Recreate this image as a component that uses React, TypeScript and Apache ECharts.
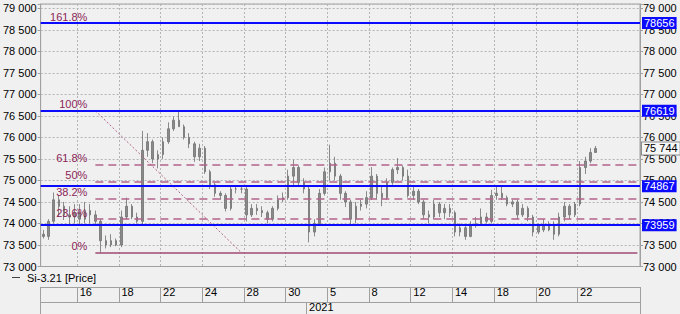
import React, { useEffect, useRef } from 'react';
import * as echarts from 'echarts';

// ---------- data ----------
const tradingDays = [
  '2020-12-14', '2020-12-15', '2020-12-16', '2020-12-17', '2020-12-18',
  '2020-12-21', '2020-12-22', '2020-12-23', '2020-12-24', '2020-12-25',
  '2020-12-28', '2020-12-29', '2020-12-30',
  '2021-01-04', '2021-01-05', '2021-01-06', '2021-01-08',
  '2021-01-11', '2021-01-12', '2021-01-13', '2021-01-14', '2021-01-15',
  '2021-01-18', '2021-01-19', '2021-01-20', '2021-01-21', '2021-01-22',
];
const emptyDays = ['2021-01-25', '2021-01-26'];
const firstDayBars = 3;
const barsPerDay = 4;

const tickDays = [
  '2020-12-16', '2020-12-18', '2020-12-22', '2020-12-24', '2020-12-28', '2020-12-30',
  '2021-01-05', '2021-01-08', '2021-01-12', '2021-01-14', '2021-01-18', '2021-01-20', '2021-01-22',
];
const yearStartDay = '2021-01-04';
const yearLabel = '2021';

const opens = [
  73750, 73700, 74050, 74550, 74400, 74200, 74150, 74250, 74100, 74300,
  74200, 74050, 73600, 73500, 73600, 73500, 74150, 74400, 74150, 74050,
  75700, 75900, 75500, 75600, 75900, 76200, 76400, 76250, 76000, 75850,
  75550, 75750, 75200, 74900, 74700, 74650, 74350, 74800, 74800, 74800,
  74200, 74350, 74300, 74250, 74100, 74350, 74550, 74600, 75100, 75300,
  74950, 74800, 73800, 74000, 74700, 75200, 75400, 75100, 74700, 74500,
  74100, 74400, 74450, 74600, 75100, 74700, 74600, 74950, 75250, 75300,
  75100, 74650, 74750, 74500, 74200, 74150, 74450, 74250, 74350, 74250,
  73800, 73900, 73700, 73950, 74000, 74150, 74050, 74650, 74700, 74600,
  74450, 74500, 74200, 74350, 74150, 73800, 73950, 73850, 73950, 73750,
  74150, 74400, 74200, 74450, 75300, 75450, 75650,
];
const closes = [
  73700, 74050, 74550, 74400, 74200, 74150, 74250, 74100, 74300, 74200,
  74050, 73600, 73500, 73600, 73500, 74150, 74400, 74150, 74050, 75700,
  75900, 75500, 75600, 75900, 76200, 76400, 76250, 76000, 75850, 75550,
  75750, 75200, 74900, 74700, 74650, 74350, 74800, 74800, 74800, 74200,
  74350, 74300, 74250, 74100, 74350, 74550, 74600, 75100, 75300, 74950,
  74800, 73800, 74000, 74700, 75200, 75400, 75100, 74700, 74500, 74100,
  74400, 74450, 74600, 75100, 74700, 74600, 74950, 75250, 75300, 75100,
  74650, 74750, 74500, 74200, 74150, 74450, 74250, 74350, 74250, 73800,
  73900, 73700, 73950, 74000, 74150, 74050, 74650, 74700, 74600, 74450,
  74500, 74200, 74350, 74150, 73800, 73950, 73850, 73950, 73750, 74150,
  74400, 74200, 74450, 75300, 75450, 75650, 75744,
];
const lows = [
  73650, 73620, 74000, 74150, 74080, 73950, 74000, 73950, 74000, 74000,
  73950, 73323, 73420, 73450, 73470, 73450, 74100, 74100, 74000, 73980,
  75550, 75400, 75280, 75500, 75850, 76150, 76250, 75950, 75750, 75430,
  75450, 75150, 74800, 74620, 74550, 74280, 74300, 74700, 74700, 74050,
  74150, 74200, 74150, 74000, 74050, 74300, 74500, 74550, 74850, 74850,
  74700, 73560, 73700, 73950, 74650, 75000, 75000, 74550, 74380, 73970,
  74000, 74300, 74350, 74550, 74550, 74400, 74550, 74900, 75150, 75000,
  74600, 74550, 74450, 74100, 74000, 74100, 74150, 74100, 74150, 73700,
  73700, 73620, 73680, 73900, 73950, 74000, 74000, 74550, 74550, 74400,
  74380, 74100, 74150, 74050, 73700, 73750, 73800, 73820, 73620, 73700,
  74050, 74100, 74150, 74400, 75150, 75400, 75650,
];
const highs = [
  73850, 74100, 74720, 74650, 74500, 74400, 74450, 74450, 74500, 74450,
  74300, 74100, 73720, 73750, 73650, 74300, 74600, 74450, 74250, 76150,
  76100, 75950, 75700, 76000, 76350, 76480, 76619, 76300, 76100, 75900,
  75850, 75800, 75250, 74950, 74750, 74700, 74850, 74870, 74870, 74850,
  74450, 74450, 74400, 74300, 74400, 74650, 74720, 75250, 75480, 75350,
  75050, 74850, 74100, 74800, 75300, 75830, 75550, 75150, 74750, 74550,
  74500, 74550, 74750, 75310, 75150, 74850, 75050, 75300, 75520, 75350,
  75250, 74850, 74800, 74550, 74300, 74550, 74500, 74450, 74450, 74300,
  74000, 73950, 74050, 74150, 74350, 74250, 74780, 74867, 74850, 74650,
  74550, 74550, 74450, 74400, 74200, 74000, 74100, 74050, 74050, 74250,
  74500, 74450, 74500, 75450, 75550, 75750, 75800,
];

const seriesName = 'Si-3.21 [Price]';

const fibLabels = ['161.8%', '100%', '61.8%', '50%', '38.2%', '23.6%', '0%'];
const fibValues = [78656, 76619, 75360, 74971, 74582, 74101, 73323];
const fibSolid = ['100%', '0%'];
const fibStartDay = '2020-12-16';
const fibStartBar = 3;
const fibEndDay = '2020-12-25';
const fibEndBar = 3;

const blueLevels = [78656, 76619, 74867, 73959];

const yMin = 73000;
const yMax = 79100;
const yStep = 500;

// ---------- helpers ----------
const FONT = "'Liberation Sans', Arial, sans-serif";

const categories: string[] = [];
const firstBarOfDay: Record<string, number> = {};
[...tradingDays, ...emptyDays].forEach((d, di) => {
  const n = di === 0 ? firstDayBars : barsPerDay;
  firstBarOfDay[d] = categories.length;
  for (let k = 0; k < n; k++) categories.push(`${d}#${k}`);
});
const tickIdx = new Set(tickDays.map((d) => firstBarOfDay[d]));
const yearIdx = firstBarOfDay[yearStartDay];
const lastIdx = categories.length - 1;
const fibStartIdx = firstBarOfDay[fibStartDay] + fibStartBar;
const fibEndIdx = firstBarOfDay[fibEndDay] + fibEndBar;

const candles = opens.map((o, i) => [o, closes[i], lows[i], highs[i]]);

const fmtThousands = (v: number) => {
  const t = Math.floor(v / 1000);
  const r = String(Math.round(v % 1000)).padStart(3, '0');
  return `${t} ${r}`;
};

export default function App() {
  const ref = useRef<HTMLDivElement>(null);
  useEffect(() => {
    if (!ref.current) return;
    const chart = echarts.init(ref.current, undefined, { renderer: 'svg' });

    const fibColor = '#b3628a';
    const fibSolidColor = '#a04a74';
    const fibTextColor = '#8b2557';
    const blue = '#0a0aff';
    const gridGray = '#b4b4b4';
    const axisGray = '#a0a0a0';

    const fibLines = fibLabels.map((lab, i) => [
      {
        coord: [fibStartIdx, fibValues[i]],
        lineStyle: {
          color: fibSolid.includes(lab) ? fibSolidColor : fibColor,
          width: 1.5,
          type: fibSolid.includes(lab) ? 'solid' : [8, 5],
        },
        label: {
          show: true,
          position: 'start',
          formatter: lab + '\n ',
          lineHeight: 13,
          color: fibTextColor,
          fontSize: 11,
          fontFamily: FONT,
          distance: 8,
        },
      },
      { coord: [lastIdx, fibValues[i]] },
    ]);

    const diagonal = [
      {
        coord: [fibStartIdx, fibValues[1]],
        lineStyle: { color: fibColor, width: 1, type: [2, 2] },
        label: { show: false },
      },
      { coord: [fibEndIdx, fibValues[6]] },
    ];

    const blueLines = blueLevels.map((v) => ({
      yAxis: v,
      lineStyle: { color: blue, width: 2, type: 'solid' },
      label: {
        show: true,
        position: 'end',
        formatter: String(v),
        color: '#fff',
        backgroundColor: blue,
        fontSize: 11,
        fontFamily: FONT,
        padding: [1, 2, 0, 2],
        distance: 2,
      },
    }));

    const lastClose = closes[closes.length - 1];
    const lastLine = {
      yAxis: lastClose,
      lineStyle: { color: 'rgba(0,0,0,0)', width: 0 },
      label: {
        show: true,
        position: 'end',
        formatter: fmtThousands(lastClose),
        color: '#000',
        backgroundColor: '#f7f7f7',
        borderColor: '#8c8c8c',
        borderWidth: 1,
        fontSize: 11,
        fontFamily: FONT,
        padding: [1, 2, 0, 2],
        distance: 2,
      },
    };

    const yAxisBase = {
      type: 'value',
      min: yMin,
      max: yMax,
      interval: yStep,
      axisLine: { show: true, lineStyle: { color: axisGray } },
      axisTick: { show: true, length: 3, lineStyle: { color: axisGray } },
    };

    const bottomLabel = {
      color: '#000',
      fontSize: 11,
      fontFamily: FONT,
      align: 'left',
    };

    chart.setOption({
      animation: false,
      backgroundColor: '#f0f0f0',
      textStyle: { fontFamily: FONT },
      legend: {
        left: 12,
        top: 272,
        padding: 0,
        itemWidth: 8,
        itemHeight: 1,
        itemGap: 5,
        data: [{ name: seriesName, icon: 'rect', itemStyle: { color: '#444', borderWidth: 0 } }],
        textStyle: { fontSize: 11, color: '#000', fontFamily: FONT, padding: [0, 0, 0, 2] },
        selectedMode: false,
      },
      grid: {
        left: 40,
        right: 40,
        top: 4,
        bottom: 47.5,
        show: true,
        borderColor: axisGray,
        borderWidth: 1,
        backgroundColor: '#f0f0f0',
      },
      xAxis: [
        {
          type: 'category',
          data: categories,
          boundaryGap: true,
          position: 'bottom',
          axisLine: { show: true, lineStyle: { color: axisGray } },
          axisTick: { show: false },
          axisLabel: { show: false },
          splitLine: {
            show: true,
            interval: (i: number) => tickIdx.has(i),
            lineStyle: { color: gridGray, type: [2, 2] },
          },
        },
        {
          type: 'category',
          data: categories,
          boundaryGap: true,
          position: 'bottom',
          offset: 20.5,
          axisLine: { show: true, lineStyle: { color: axisGray } },
          axisTick: {
            show: true,
            length: 15,
            interval: (i: number) => i === 0 || tickIdx.has(i),
            lineStyle: { color: axisGray },
          },
          axisLabel: {
            ...bottomLabel,
            show: true,
            interval: (i: number) => tickIdx.has(i),
            formatter: (v: string) => String(parseInt(v.slice(8, 10), 10)),
            margin: -1,
          },
          splitLine: { show: false },
        },
        {
          type: 'category',
          data: categories,
          boundaryGap: true,
          position: 'bottom',
          offset: 35.5,
          axisLine: { show: true, lineStyle: { color: axisGray } },
          axisTick: {
            show: true,
            length: 12,
            interval: (i: number) => i === 0 || i === yearIdx,
            lineStyle: { color: axisGray },
          },
          axisLabel: {
            ...bottomLabel,
            show: true,
            interval: (i: number) => i === yearIdx,
            formatter: () => yearLabel,
            margin: -1,
          },
          splitLine: { show: false },
        },
      ],
      yAxis: [
        {
          ...yAxisBase,
          position: 'left',
          axisLabel: {
            margin: 4,
            color: '#000',
            fontSize: 11,
            fontFamily: FONT,
            formatter: (v: number) => (v % yStep === 0 ? fmtThousands(v) : ''),
          },
          splitLine: { show: true, lineStyle: { color: gridGray, type: [2, 2] } },
        },
        {
          ...yAxisBase,
          position: 'right',
          axisLabel: {
            margin: 3,
            color: '#000',
            fontSize: 11,
            fontFamily: FONT,
            formatter: (v: number) => (v % yStep === 0 ? fmtThousands(v) : ''),
          },
          splitLine: { show: false },
        },
      ],
      series: [
        {
          name: 'fib',
          type: 'line',
          xAxisIndex: 0,
          yAxisIndex: 0,
          data: [],
          silent: true,
          markLine: {
            symbol: ['none', 'none'],
            silent: true,
            animation: false,
            data: [...fibLines, diagonal],
          },
        },
        {
          name: 'levels',
          type: 'line',
          xAxisIndex: 0,
          yAxisIndex: 0,
          data: [],
          silent: true,
          markLine: {
            symbol: ['none', 'none'],
            silent: true,
            animation: false,
            data: [...blueLines, lastLine],
          },
        },
        {
          name: seriesName,
          type: 'candlestick',
          xAxisIndex: 0,
          yAxisIndex: 0,
          data: candles,
          barWidth: 2,
          itemStyle: {
            color: '#8a8a8a',
            color0: '#8a8a8a',
            borderColor: '#707070',
            borderColor0: '#707070',
            borderWidth: 0.8,
          },
        },
      ],
    } as any);

    return () => chart.dispose();
  }, []);

  return (
    <div
      ref={ref}
      style={{ position: 'absolute', left: 0, top: 0, width: 680, height: 314, background: '#f0f0f0' }}
    />
  );
}
